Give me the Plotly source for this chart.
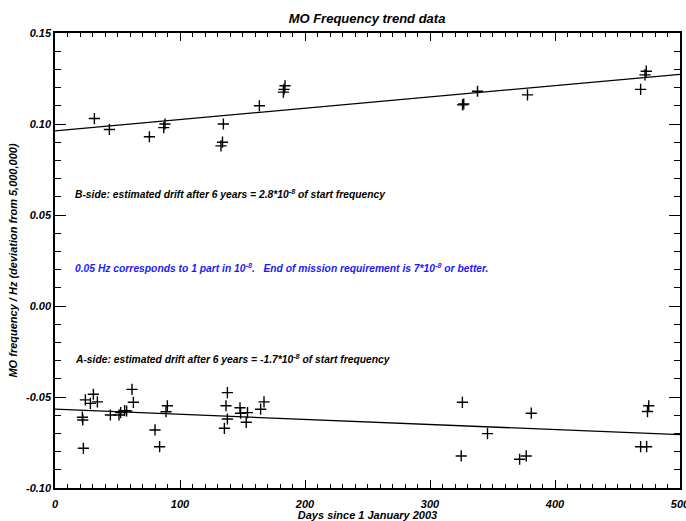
import plotly.graph_objects as go

# B-side MO frequency readings (days since 1 Jan 2003, Hz deviation from 5,000,000)
b_days = [31.5, 43.5, 75.5, 87, 88, 132.8, 134, 134.7, 163.5, 182.7, 183.2, 184,
          326, 327, 338, 378, 468.5, 472, 473]
b_freq = [0.103, 0.097, 0.093, 0.098, 0.100, 0.088, 0.090, 0.100, 0.110, 0.1175, 0.119, 0.121,
          0.1105, 0.111, 0.118, 0.116, 0.119, 0.127, 0.129]

# A-side MO frequency readings
a_days = [21.9, 22.2, 22.7, 24.3, 28.3, 30.7, 33.9, 44.3, 51.2, 52.5, 55.7, 57.3,
          61.6, 62.7, 80, 83.7, 88.8, 89.9, 135.5, 136.8, 137.9, 137.9, 148, 148.5,
          153, 154, 164.5, 167.2, 325.9, 325, 346, 371.7, 377, 381, 468.5, 473.3, 474, 475]
a_freq = [-0.0611, -0.0626, -0.0782, -0.0516, -0.0535, -0.0485, -0.0527, -0.0599, -0.0599,
          -0.0586, -0.0575, -0.0577, -0.0458, -0.0529, -0.0681, -0.0773, -0.0581, -0.0548,
          -0.0672, -0.0548, -0.0621, -0.0476, -0.0559, -0.0589, -0.0639, -0.0586, -0.0567,
          -0.0527, -0.0529, -0.0824, -0.0701, -0.0842, -0.0824, -0.0589, -0.0773, -0.0773,
          -0.0580, -0.0548]

# Linear trend lines, evaluated at the ends of the day range
fit_days = [0, 500]
b_fit = [0.0962, 0.1273]
a_fit = [-0.0567, -0.0707]

FONT = "Liberation Sans, Arial, Helvetica, sans-serif"
marker = dict(symbol="cross-thin", size=8, color="black",
              line=dict(width=1.4, color="black"))

fig = go.Figure()
fig.add_trace(go.Scatter(x=b_days, y=b_freq, mode="markers", marker=marker))
fig.add_trace(go.Scatter(x=a_days, y=a_freq, mode="markers", marker=marker))
fig.add_trace(go.Scatter(x=fit_days, y=b_fit, mode="lines",
                         line=dict(color="black", width=1.3)))
fig.add_trace(go.Scatter(x=fit_days, y=a_fit, mode="lines",
                         line=dict(color="black", width=1.3)))

txt_font = dict(family=FONT, size=10.3, color="black", weight="bold", style="italic")
gap = "&nbsp;" * 3
notes = [
    (0.062, "B-side: estimated drift after 6 years = 2.8*10<sup>-8</sup> of start frequency", "black"),
    (0.0214, "0.05 Hz corresponds to 1 part in 10<sup>-8</sup>." + gap +
             "End of mission requirement is 7*10<sup>-8</sup> or better.", "#1a1aff"),
    (-0.0286, "A-side: estimated drift after 6 years = -1.7*10<sup>-8</sup> of start frequency", "black"),
]
for y, text, col in notes:
    fig.add_annotation(x=14.4, y=y, xref="x", yref="y", text=text, showarrow=False,
                       xanchor="left", yanchor="middle",
                       font=dict(txt_font, color=col))

axis_common = dict(
    showline=True, linecolor="black", linewidth=1.5, mirror="allticks",
    ticks="inside", tickcolor="black", tickwidth=1,
    showgrid=False, zeroline=False, automargin=False,
    tickfont=dict(family=FONT, size=11, color="black", weight="bold", style="italic"),
)

fig.update_xaxes(
    range=[0, 500], tickvals=[0, 100, 200, 300, 400, 500],
    ticktext=["0", "100", "200", "300", "400", "500"], ticklen=8,
    ticklabeloverflow="allow", ticklabelstandoff=5,
    minor=dict(dtick=10, ticklen=4, ticks="inside", tickcolor="black", tickwidth=1),
    title=dict(text="Days since 1 January 2003", standoff=3,
               font=dict(family=FONT, size=11, color="black", weight="bold", style="italic")),
    **axis_common,
)
fig.update_yaxes(
    range=[-0.10, 0.15], tickvals=[-0.10, -0.05, 0.0, 0.05, 0.10, 0.15],
    ticktext=["-0.10", "-0.05", "0.00", "0.05", "0.10", "0.15"], ticklen=11,
    minor=dict(dtick=0.01, ticklen=6, ticks="inside", tickcolor="black", tickwidth=1),
    title=dict(text="MO frequency / Hz (deviation from 5,000,000)", standoff=6,
               font=dict(family=FONT, size=11, color="black", weight="bold", style="italic")),
    **axis_common,
)

fig.update_layout(
    width=686, height=521,
    margin=dict(l=55, r=6, t=33, b=33),
    paper_bgcolor="white", plot_bgcolor="white",
    showlegend=False,
    title=dict(text="MO Frequency trend data", x=0.535, xanchor="center", y=0.965,
               yanchor="middle",
               font=dict(family=FONT, size=13, color="black", weight="bold", style="italic")),
)

fig.write_html("out.html")
